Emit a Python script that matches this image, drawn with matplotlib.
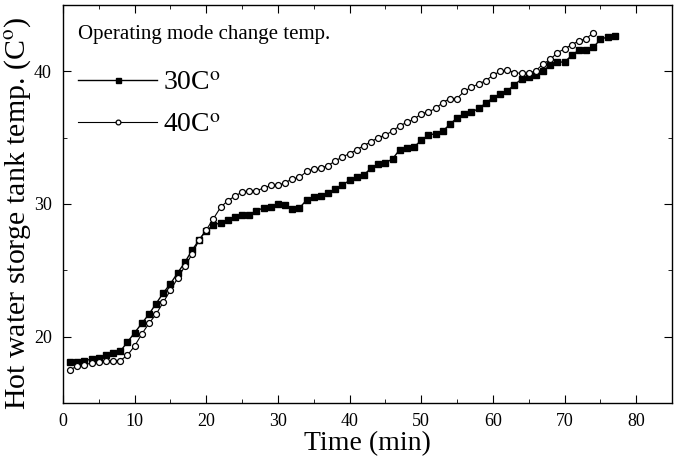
import numpy as np
import matplotlib
matplotlib.use('Agg')
import matplotlib.pyplot as plt
from matplotlib.ticker import MultipleLocator

plt.rcParams['font.family'] = ['Liberation Serif', 'DejaVu Serif']
plt.rcParams['mathtext.fontset'] = 'stix'

time_30 = list(range(1, 78))
temp_30 = [18.1, 18.1, 18.2, 18.3, 18.4, 18.6, 18.8, 18.9, 19.6, 20.3,
           21.0, 21.7, 22.5, 23.3, 24.0, 24.8, 25.6, 26.5, 27.3, 28.0,
           28.4, 28.6, 28.8, 29.0, 29.2, 29.2, 29.5, 29.7, 29.8, 30.0,
           29.9, 29.6, 29.7, 30.3, 30.5, 30.6, 30.8, 31.1, 31.4, 31.8,
           32.0, 32.2, 32.7, 33.0, 33.1, 33.4, 34.1, 34.2, 34.3, 34.8,
           35.2, 35.3, 35.5, 36.0, 36.5, 36.8, 36.9, 37.2, 37.6, 38.0,
           38.3, 38.5, 39.0, 39.4, 39.6, 39.7, 40.0, 40.5, 40.7, 40.7,
           41.2, 41.6, 41.6, 41.8, 42.4, 42.6, 42.7]

time_40 = list(range(1, 75))
temp_40 = [17.5, 17.8, 17.9, 18.0, 18.1, 18.15, 18.2, 18.2, 18.6, 19.3,
           20.2, 21.0, 21.7, 22.6, 23.5, 24.4, 25.3, 26.2, 27.3, 28.05,
           28.9, 29.75, 30.25, 30.6, 30.9, 31.0, 31.0, 31.2, 31.4, 31.4,
           31.6, 31.9, 32.0, 32.45, 32.65, 32.7, 32.9, 33.25, 33.55, 33.8,
           34.1, 34.4, 34.7, 35.0, 35.2, 35.5, 35.9, 36.15, 36.4, 36.8,
           36.95, 37.2, 37.65, 37.95, 37.95, 38.5, 38.8, 39.05, 39.3, 39.7,
           40.0, 40.1, 39.9, 39.85, 39.85, 40.05, 40.55, 40.9, 41.4, 41.7,
           42.0, 42.3, 42.45, 42.9]

fig = plt.figure(figsize=(6.76, 4.62), dpi=100)
ax = fig.add_axes([63 / 676, 1 - 403 / 462, 609 / 676, 398 / 462])

ax.plot(time_30, temp_30, color='black', lw=1, marker='s', ms=4.5,
        mfc='black', mec='black', label='30C$^{\\mathrm{o}}$')
ax.plot(time_40, temp_40, color='black', lw=0.8, marker='o', ms=4.3,
        mfc='white', mec='black', mew=0.9, label='40C$^{\\mathrm{o}}$')

ax.set_xlim(0, 85)
ax.set_ylim(15, 45)
ax.xaxis.set_major_locator(MultipleLocator(10))
ax.xaxis.set_minor_locator(MultipleLocator(5))
ax.yaxis.set_major_locator(MultipleLocator(10))
ax.yaxis.set_minor_locator(MultipleLocator(5))
ax.tick_params(which='both', direction='in', top=True, right=True, labelsize=13)
ax.tick_params(which='major', length=5.5)
ax.tick_params(which='minor', length=3)
ax.tick_params(axis='x', pad=7)
ax.tick_params(axis='y', pad=8)
for s in ax.spines.values():
    s.set_linewidth(1)

ax.set_xlabel('Time (min)', fontsize=20, labelpad=1)
ax.set_ylabel('Hot water storge tank temp. (C$^{\\mathrm{o}}$)', fontsize=21.5)
ax.yaxis.set_label_coords(-0.049, 0.477)

leg = ax.legend(title='Operating mode change temp.', loc='upper left',
                bbox_to_anchor=(0.0066, 0.977),
                frameon=False, fontsize=20, title_fontsize=15,
                handlelength=2.85, numpoints=1, markerscale=0.8,
                borderaxespad=0.0, labelspacing=0.6, handletextpad=0.2)
leg._legend_box.align = 'left'
leg._legend_box.sep = 19

fig.savefig('out.png', dpi=100)
